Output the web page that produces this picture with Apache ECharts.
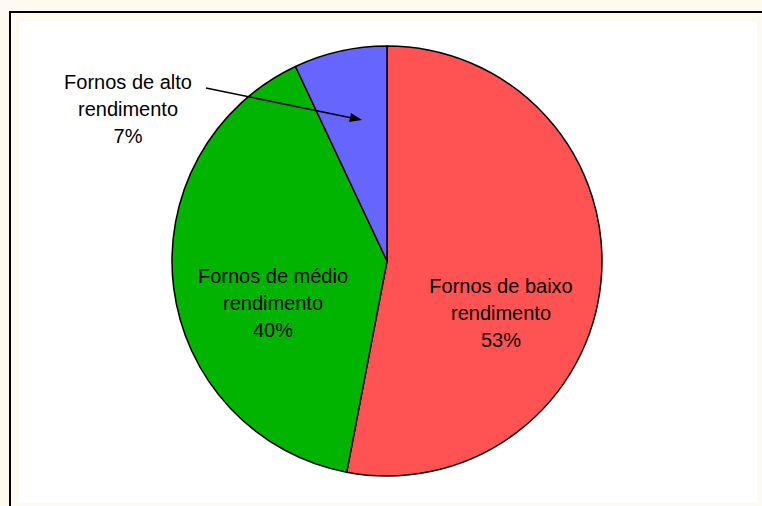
<!DOCTYPE html>
<html>
<head>
<meta charset="utf-8">
<script src="https://cdn.jsdelivr.net/npm/echarts@6/dist/echarts.min.js"></script>
<style>
  html, body { margin: 0; padding: 0; background: #fffaef; }
  #chart { width: 762px; height: 506px; }
</style>
</head>
<body>
<div id="chart"></div>
<script>
var categories = ['Fornos de baixo\nrendimento', 'Fornos de médio\nrendimento', 'Fornos de alto\nrendimento'];
var shares = [53, 40, 7];
var sliceColors = ['#ff5252', '#00b400', '#6666ff'];
// label centres, in pixels
var labelSpots = [[501, 313], [273, 303], [128, 109]];

var chart = echarts.init(document.getElementById('chart'), null, { renderer: 'svg' });

chart.setOption({
  animation: false,
  backgroundColor: '#fffaef',
  graphic: [
    { type: 'rect', shape: { x: 19, y: 21, width: 738, height: 482 }, style: { fill: '#ffffff' }, z: -10 },
    { type: 'line', shape: { x1: 9, y1: 12, x2: 762, y2: 12 }, style: { stroke: '#000', lineWidth: 2 } },
    { type: 'line', shape: { x1: 10, y1: 11, x2: 10, y2: 506 }, style: { stroke: '#000', lineWidth: 2 } },
    { type: 'line', shape: { x1: 206, y1: 88, x2: 352, y2: 118 }, style: { stroke: '#000', lineWidth: 1.5 }, z: 100 },
    { type: 'polygon', shape: { points: [[362, 120], [349, 122], [351, 113]] }, style: { fill: '#000' }, z: 100 }
  ],
  series: [{
    type: 'pie',
    center: [387, 261],
    radius: 215,
    startAngle: 90,
    clockwise: true,
    silent: true,
    itemStyle: { borderColor: '#000', borderWidth: 1.5 },
    label: {
      show: true,
      position: 'inside',
      color: '#000',
      fontFamily: 'Liberation Sans, Arial, sans-serif',
      fontSize: 20,
      lineHeight: 27,
      align: 'center',
      verticalAlign: 'middle',
      formatter: function (p) { return p.name + '\n' + p.value + '%'; }
    },
    labelLine: { show: false },
    labelLayout: function (p) {
      var s = labelSpots[p.dataIndex];
      return { x: s[0], y: s[1], align: 'center', verticalAlign: 'middle' };
    },
    data: categories.map(function (name, i) {
      return { name: name, value: shares[i], itemStyle: { color: sliceColors[i] } };
    })
  }]
});
</script>
</body>
</html>
